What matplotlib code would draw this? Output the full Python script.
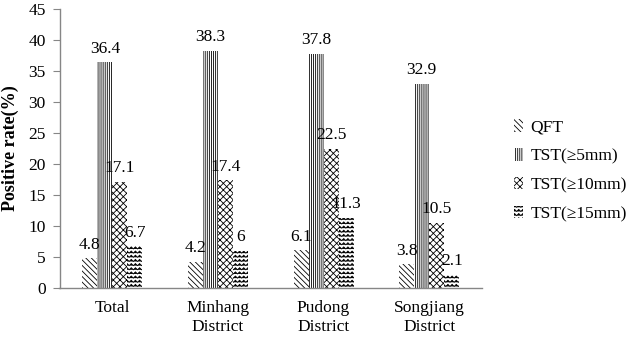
import warnings
import numpy as np
import matplotlib
matplotlib.use("Agg")
import matplotlib.pyplot as plt
from matplotlib import hatch as mhatch
from matplotlib.path import Path

warnings.filterwarnings("ignore")

categories = ["Total", "Minhang\nDistrict", "Pudong\nDistrict", "Songjiang\nDistrict"]
series_names = ["QFT", "TST(\u22655mm)", "TST(\u226510mm)", "TST(\u226515mm)"]
qft = [4.8, 4.2, 6.1, 3.8]
tst5 = [36.4, 38.3, 37.8, 32.9]
tst10 = [17.1, 17.4, 22.5, 10.5]
tst15 = [6.7, 6, 11.3, 2.1]
y_ticks = [0, 5, 10, 15, 20, 25, 30, 35, 40, 45]


# zigzag hatch, like the excel wave fill
class ZigZagHatch(mhatch.HatchPatternBase):
    def __init__(self, hatch, density):
        self.num_rows = int(hatch.count('z') * density)
        self.pts = 2 * self.num_rows + 1 if self.num_rows else 0
        self.num_vertices = self.num_rows * self.pts

    def set_vertices_and_codes(self, vertices, codes):
        xs = np.linspace(0, 1, self.pts)
        step = 1.0 / self.num_rows
        amp = step * 0.5
        offs = np.where(np.arange(self.pts) % 2 == 0, -amp / 2, amp / 2)
        for i in range(self.num_rows):
            sl = slice(i * self.pts, (i + 1) * self.pts)
            vertices[sl, 0] = xs
            vertices[sl, 1] = (i + 0.5) * step + offs
            codes[sl] = Path.LINETO
            codes[i * self.pts] = Path.MOVETO


mhatch._hatch_types.append(ZigZagHatch)

plt.rcParams['font.family'] = ['Liberation Serif', 'DejaVu Serif']
plt.rcParams['hatch.linewidth'] = 0.6

fig = plt.figure(figsize=(6.29, 3.39), dpi=100)
ax = fig.add_axes([59.5 / 629, 1 - 288 / 339, (482 - 59.5) / 629, (288 - 9) / 339])

x = np.arange(len(categories))
w = 0.142
hatches = ['\\' * 6, '|' * 8, 'x' * 5, 'z' * 4]
data = [qft, tst5, tst10, tst15]
for i, (vals, name, h) in enumerate(zip(data, series_names, hatches)):
    bars = ax.bar(x + (i - 1.5) * w, vals, w, label=name, facecolor='white',
                  edgecolor='black', linewidth=0, hatch=h)
    ax.bar_label(bars, labels=[f"{v:g}" for v in vals], padding=4, fontsize=12.5)

ax.set_xlim(-0.5, len(categories) - 0.5)
ax.set_ylim(0, 45)
ax.set_yticks(y_ticks)
ax.set_xticks(x)
ax.set_xticklabels(categories, fontsize=12.5, linespacing=1.2)
ax.tick_params(axis='x', length=0, pad=9)
ax.tick_params(axis='y', length=5, color='#868686', labelsize=12.5, pad=5)
for s in ['top', 'right']:
    ax.spines[s].set_visible(False)
for s in ['left', 'bottom']:
    ax.spines[s].set_color('#868686')
    ax.spines[s].set_linewidth(1)
ax.set_ylabel("Positive rate(%)", fontsize=13, fontweight='bold', labelpad=7)

fig.legend(loc='upper left', bbox_to_anchor=(507 / 629, 1 - 112 / 339), frameon=False,
           fontsize=12.5, handlelength=0.55, handleheight=0.75, handletextpad=0.4,
           labelspacing=0.72, borderaxespad=0)

fig.savefig("out.png", dpi=100)
